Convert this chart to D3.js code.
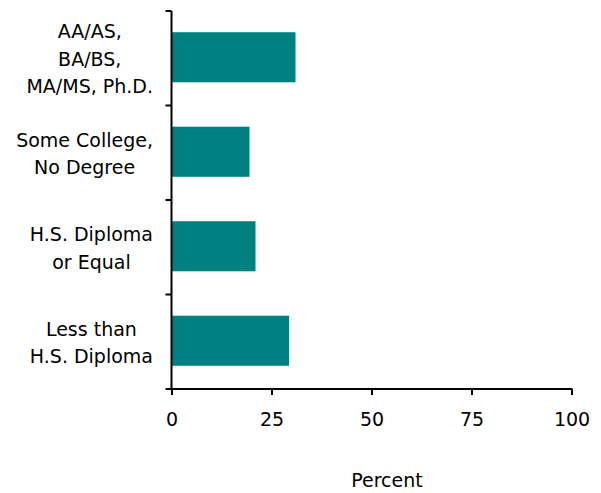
<!DOCTYPE html>
<html><head><meta charset="utf-8">
<script src="https://cdn.jsdelivr.net/npm/d3@7"></script>
<style>body{margin:0;background:#fff}</style>
</head><body>
<svg id="chart" width="601" height="493"></svg>
<script>
const categories = [
  ["AA/AS,", "BA/BS,", "MA/MS, Ph.D."],
  ["Some College,", "No Degree"],
  ["H.S. Diploma", "or Equal"],
  ["Less than", "H.S. Diploma"]
];
const values = [31, 19.5, 21, 29.4];
const xTicks = [0, 25, 50, 75, 100];
const xTitle = "Percent";

(function () {
const font = "'DejaVu Sans', sans-serif";
const fs = 19;
const svg = d3.select("#chart");
const pl = 171.5, pr = 571.5, pt = 11, pb = 389;
const keys = categories.map((c, i) => i);
const x = d3.scaleLinear().domain([0, 100]).range([pl, pr]);
const y = d3.scaleBand().domain(keys).range([pt, pb]).paddingInner(0.47).paddingOuter(0.235);
const yb = d3.scaleBand().domain(keys).range([pt, pb]);

svg.selectAll("rect.bar").data(values).join("rect")
  .attr("class", "bar")
  .attr("x", x(0))
  .attr("y", (d, i) => y(i) - 1)
  .attr("width", d => x(d) - x(0))
  .attr("height", y.bandwidth())
  .attr("fill", "#008080");

svg.append("line").attr("x1", pl).attr("x2", pl).attr("y1", pt).attr("y2", pb)
  .attr("stroke", "#000").attr("stroke-width", 2);
const bounds = keys.map(k => yb(k)).concat([pb]);
svg.selectAll("line.yt").data(bounds).join("line").attr("class", "yt")
  .attr("x1", pl - 6).attr("x2", pl).attr("y1", d => d).attr("y2", d => d)
  .attr("stroke", "#000").attr("stroke-width", 2);

const xAxis = d3.axisBottom(x).tickValues(xTicks).tickSize(6).tickPadding(0).tickFormat(d3.format("d"));
const gx = svg.append("g").attr("transform", `translate(0,${pb})`).call(xAxis);
gx.select(".domain").attr("stroke", "#000").attr("stroke-width", 2).attr("d", `M${pl - 1},0H${pr + 1}`);
gx.selectAll(".tick line").attr("stroke", "#000").attr("stroke-width", 2);
gx.selectAll(".tick text").attr("font-family", font).attr("font-size", fs).attr("fill", "#000")
  .attr("dy", null).attr("y", 37);

const lh = 27.5;
const labelRight = 153;
categories.forEach((lines, i) => {
  const cy = yb(i) + yb.bandwidth() / 2;
  const t = svg.append("text").attr("text-anchor", "middle")
    .attr("font-family", font).attr("font-size", fs).attr("fill", "#000");
  const spans = lines.map((s, j) => t.append("tspan")
      .attr("y", cy + (j - (lines.length - 1) / 2) * lh + 7.5)
      .text(s));
  const maxW = d3.max(spans, sp => sp.node().getComputedTextLength());
  spans.forEach(sp => sp.attr("x", labelRight - maxW / 2));
});

svg.append("text").attr("x", 387).attr("y", 487).attr("text-anchor", "middle")
  .attr("font-family", font).attr("font-size", fs).attr("fill", "#000").text(xTitle);
})();
</script>
</body></html>
